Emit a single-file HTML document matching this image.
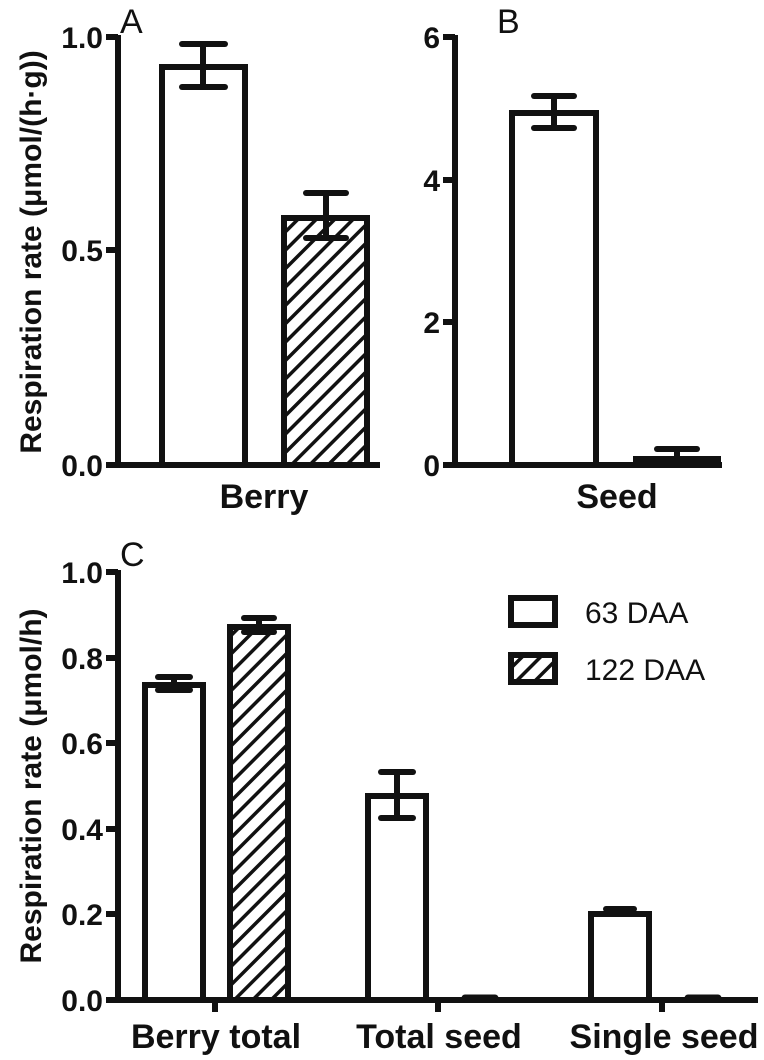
<!DOCTYPE html>
<html><head><style>body{margin:0;background:#fff}svg{display:block}text{font-family:"Liberation Sans",Arial,sans-serif;fill:#111}</style></head>
<body>
<svg width="764" height="1060" viewBox="0 0 764 1060" xmlns="http://www.w3.org/2000/svg">
<defs>
<pattern id="h" patternUnits="userSpaceOnUse" width="13" height="13" patternTransform="rotate(45)">
<rect width="13" height="13" fill="#fff"/><rect x="0" y="0" width="3.5" height="13" fill="#111"/>
</pattern>
</defs>
<g stroke="#111" stroke-width="6" fill="none" stroke-linecap="butt">
<!-- Panel A -->
<line x1="118" y1="35" x2="118" y2="467"/>
<line x1="116" y1="465" x2="380" y2="465"/>
<line x1="106" y1="37" x2="118" y2="37"/>
<line x1="106" y1="250" x2="118" y2="250"/>
<line x1="106" y1="465" x2="118" y2="465"/>
<rect x="162" y="67" width="83" height="398" fill="#fff"/>
<line x1="203" y1="44" x2="203" y2="87"/><line x1="182" y1="44" x2="225" y2="44" stroke-linecap="round"/><line x1="182" y1="87" x2="225" y2="87" stroke-linecap="round"/>
<rect x="284" y="218" width="83" height="247" fill="url(#h)"/>
<line x1="326" y1="193" x2="326" y2="238"/><line x1="306" y1="193" x2="346" y2="193" stroke-linecap="round"/><line x1="306" y1="238" x2="346" y2="238" stroke-linecap="round"/>
<!-- Panel B -->
<line x1="455" y1="35" x2="455" y2="467"/>
<line x1="453" y1="465" x2="722" y2="465"/>
<line x1="443" y1="37" x2="455" y2="37"/>
<line x1="443" y1="180" x2="455" y2="180"/>
<line x1="443" y1="322" x2="455" y2="322"/>
<line x1="443" y1="465" x2="455" y2="465"/>
<rect x="512" y="113" width="84" height="352" fill="#fff"/>
<line x1="554" y1="96" x2="554" y2="128"/><line x1="534" y1="96" x2="574" y2="96" stroke-linecap="round"/><line x1="534" y1="128" x2="574" y2="128" stroke-linecap="round"/>
<rect x="636" y="459" width="82" height="6" fill="#fff"/>
<line x1="677" y1="449" x2="677" y2="462"/><line x1="657" y1="449" x2="697" y2="449" stroke-linecap="round"/>
<!-- Panel C -->
<line x1="118" y1="570" x2="118" y2="1002"/>
<line x1="116" y1="1000" x2="758" y2="1000"/>
<line x1="106" y1="572" x2="118" y2="572"/>
<line x1="106" y1="658" x2="118" y2="658"/>
<line x1="106" y1="743" x2="118" y2="743"/>
<line x1="106" y1="829" x2="118" y2="829"/>
<line x1="106" y1="914" x2="118" y2="914"/>
<line x1="106" y1="1000" x2="118" y2="1000"/>
<line x1="438" y1="1000" x2="438" y2="1012"/>
<line x1="662" y1="1000" x2="662" y2="1012"/>
<line x1="215" y1="1000" x2="215" y2="1012"/>
<rect x="145" y="685" width="58" height="315" fill="#fff"/>
<line x1="158" y1="677" x2="190" y2="677" stroke-linecap="round"/><line x1="174" y1="677" x2="174" y2="690"/><line x1="158" y1="690" x2="190" y2="690" stroke-linecap="round"/>
<rect x="230" y="627" width="58" height="373" fill="url(#h)"/>
<line x1="244" y1="618" x2="274" y2="618" stroke-linecap="round"/><line x1="259" y1="618" x2="259" y2="632"/><line x1="244" y1="632" x2="274" y2="632" stroke-linecap="round"/>
<rect x="368" y="796" width="58" height="204" fill="#fff"/>
<line x1="397" y1="772" x2="397" y2="818"/><line x1="381" y1="772" x2="413" y2="772" stroke-linecap="round"/><line x1="381" y1="818" x2="413" y2="818" stroke-linecap="round"/>
<rect x="591" y="914" width="58" height="86" fill="#fff"/>
<line x1="606" y1="909" x2="634" y2="909" stroke-linecap="round" stroke-width="6"/>
<line x1="465" y1="998" x2="495" y2="998" stroke-width="7" stroke-linecap="round"/>
<line x1="688" y1="998" x2="718" y2="998" stroke-width="7" stroke-linecap="round"/>
<rect x="511" y="598" width="44" height="27" fill="#fff"/>
<rect x="511" y="655" width="44" height="27" fill="url(#h)"/>
</g>
<g font-weight="bold" font-size="30" text-anchor="end">
<text x="103" y="48">1.0</text><text x="103" y="261">0.5</text><text x="103" y="476">0.0</text>
<text x="440" y="48">6</text><text x="440" y="191">4</text><text x="440" y="333">2</text><text x="440" y="476">0</text>
<text x="103" y="583">1.0</text><text x="103" y="669">0.8</text><text x="103" y="754">0.6</text><text x="103" y="840">0.4</text><text x="103" y="925">0.2</text><text x="103" y="1011">0.0</text>
</g>
<g font-weight="bold" font-size="34" text-anchor="middle">
<text x="264" y="508">Berry</text>
<text x="617" y="508">Seed</text>
<text x="216" y="1048">Berry total</text>
<text x="439" y="1048">Total seed</text>
<text x="664" y="1048">Single seed</text>
</g>
<text font-weight="bold" font-size="30" text-anchor="middle" transform="translate(41,252) rotate(-90)">Respiration rate (μmol/(h·g))</text>
<text font-weight="bold" font-size="30" text-anchor="middle" transform="translate(41,786) rotate(-90)">Respiration rate (μmol/h)</text>
<g font-size="34"><text x="120" y="33">A</text><text x="497" y="33">B</text><text x="120" y="566">C</text></g>
<g font-size="30"><text x="585" y="623">63 DAA</text><text x="585" y="680">122 DAA</text></g>
</svg>
</body></html>
